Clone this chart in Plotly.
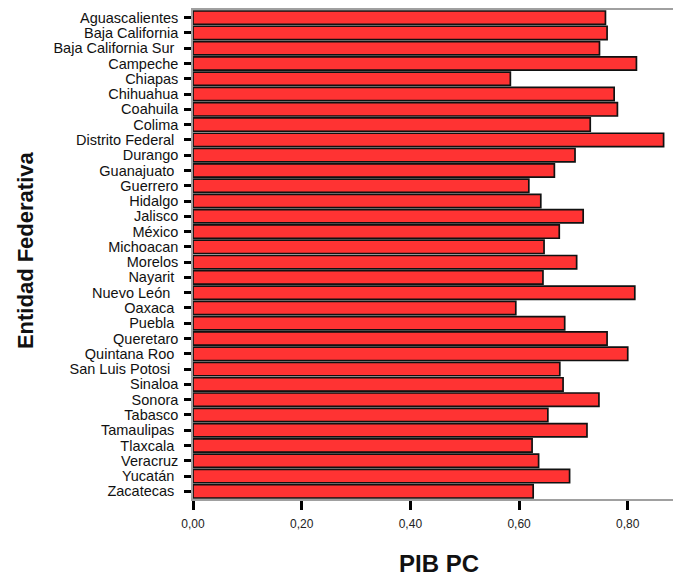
import plotly.graph_objects as go

estados = ["Aguascalientes", "Baja California", "Baja California Sur ", "Campeche", "Chiapas",
           "Chihuahua", "Coahuila", "Colima", "Distrito Federal ", "Durango", "Guanajuato ",
           "Guerrero", "Hidalgo", "Jalisco", "México", "Michoacan", "Morelos", "Nayarit ",
           "Nuevo León  ", "Oaxaca ", "Puebla ", "Queretaro", "Quintana Roo ", "San Luis Potosi  ",
           "Sinaloa", "Sonora", "Tabasco", "Tamaulipas ", "Tlaxcala ", "Veracruz", "Yucatán ",
           "Zacatecas "]
pib_pc = [0.759, 0.762, 0.748, 0.816, 0.584,
          0.775, 0.781, 0.731, 0.866, 0.703, 0.665,
          0.618, 0.640, 0.718, 0.674, 0.646, 0.706, 0.644,
          0.813, 0.594, 0.684, 0.762, 0.800, 0.675,
          0.681, 0.747, 0.653, 0.725, 0.624, 0.636, 0.693,
          0.626]
x_ticks = [0.0, 0.2, 0.4, 0.6, 0.8]

fig = go.Figure()
fig.add_trace(go.Bar(
    x=pib_pc, y=estados, orientation="h",
    marker=dict(color="#FF3333", line=dict(color="#111111", width=1.7)),
    hoverinfo="x+y",
))

fig.update_layout(
    width=673, height=576,
    margin=dict(l=193, r=0, t=10, b=77, autoexpand=False),
    plot_bgcolor="white", paper_bgcolor="white",
    separators=",.",
    bargap=0.13,
    showlegend=False,
    font=dict(family="Liberation Sans, Arial, sans-serif", color="black"),
    xaxis=dict(
        range=[0, 0.8833], tickvals=x_ticks, tickformat=".2f",
        ticks="outside", ticklen=9, tickwidth=3, tickcolor="black",
        showgrid=False, zeroline=False, automargin=False,
        showline=True, linecolor="#a0a0a0", linewidth=1.5, mirror=True,
        tickfont=dict(size=12, color="#222222"), ticklabelstandoff=4,
    ),
    yaxis=dict(
        autorange="reversed", tickmode="array", tickvals=estados, ticktext=estados,
        ticks="outside", ticklen=7, tickwidth=3, tickcolor="black",
        showgrid=False, zeroline=False, automargin=False,
        showline=True, linecolor="#a0a0a0", linewidth=1.5, mirror=True,
        tickfont=dict(family="Liberation Sans, Arial, sans-serif", size=14.5, color="#111111"),
        ticklabelstandoff=3,
    ),
    annotations=[
        dict(text="<b>PIB PC</b>", xref="paper", yref="paper", x=0.5125, y=-0.131,
             xanchor="center", yanchor="middle", showarrow=False,
             font=dict(size=24, color="#111111")),
        dict(text="<b>Entidad Federativa</b>", xref="paper", yref="paper", x=-0.35, y=0.509,
             xanchor="center", yanchor="middle", showarrow=False, textangle=-90,
             font=dict(size=22, color="#111111")),
    ],
)

fig.write_html("out.html", config={"displayModeBar": False},
               post_script="document.body.style.margin='0';document.body.style.overflow='hidden';")
